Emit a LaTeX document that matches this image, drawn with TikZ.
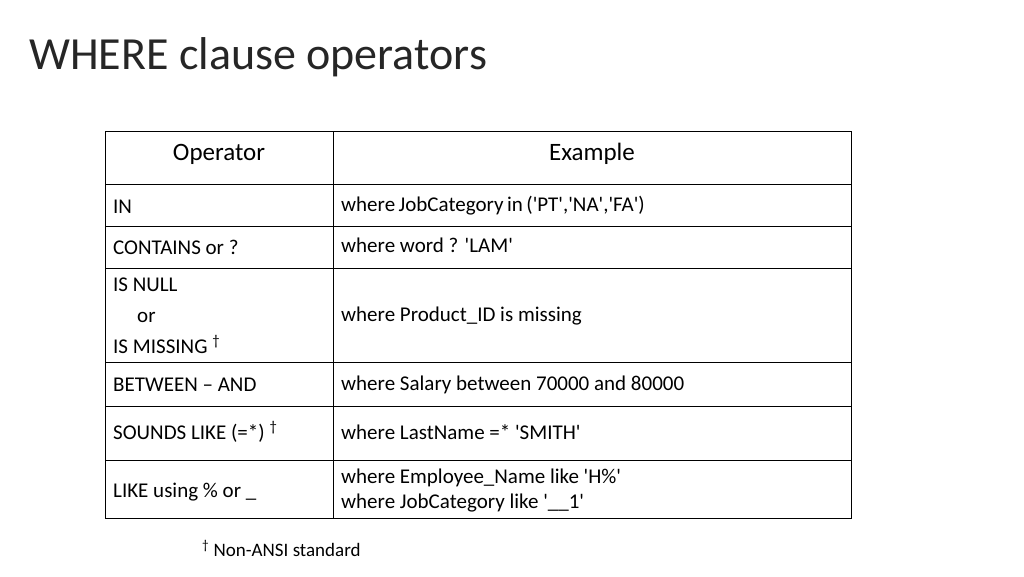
\documentclass[tikz,border=0pt]{standalone}
\usepackage{fontspec}
\setmainfont{Carlito}
\newcommand\sq{\textquotesingle}
\newcommand\dg{\textsuperscript{\textdagger}}
\begin{document}
\begin{tikzpicture}[x=1pt,y=-1pt,
  cell/.style={anchor=base west,inner sep=0pt,font=\fontsize{21}{24}\selectfont},
  head/.style={anchor=base,inner sep=0pt,font=\fontsize{25}{28}\selectfont}]
\useasboundingbox (0,0) rectangle (1024,576);
\node[anchor=base west,inner sep=0pt,text=black!85,font=\fontsize{46}{50}\selectfont] (title) at (29,69) {WHERE clause operators};
\draw[line width=0.8pt] (105,131) rectangle (851,518);
\draw[line width=0.8pt] (333,131) -- (333,518);
\foreach \y in {184,226,268,362,406,460} \draw[line width=0.8pt] (105,\y) -- (851,\y);
\node[head] (h1) at (219,160) {Operator};
\node[head] (h2) at (592,160) {Example};
\node[cell] (a1) at (113,213) {IN};
\node[cell] (b1) at (341,211) {where\,JobCategory\,in\,(\sq PT\sq,\sq NA\sq,\sq FA\sq)};
\node[cell] (a2) at (113,254) {CONTAINS or ?};
\node[cell] (b2) at (341,252) {where word ? \sq LAM\sq};
\node[cell] (a3) at (113,291) {IS NULL};
\node[cell] (a3b) at (137,322) {or};
\node[cell] (a3c) at (113,353) {IS MISSING \dg};
\node[cell] (b3) at (341,321) {where Product\_ID is missing};
\node[cell] (a4) at (113,391) {BETWEEN -- AND};
\node[cell] (b4) at (341,390) {where Salary between 70000 and 80000};
\node[cell] (a5) at (113,439) {SOUNDS LIKE (=*) \dg};
\node[cell] (b5) at (341,439) {where LastName =* \sq SMITH\sq};
\node[cell] (a6) at (113,497) {LIKE using \% or \_};
\node[cell] (b6) at (341,483) {where Employee\_Name like \sq H\%\sq};
\node[cell] (b6b) at (341,508) {where JobCategory like \sq\_\_1\sq};
\node[anchor=base west,inner sep=0pt,font=\fontsize{19}{22}\selectfont] (fn) at (202,556) {\dg\ Non-ANSI standard};
\end{tikzpicture}
\end{document}
